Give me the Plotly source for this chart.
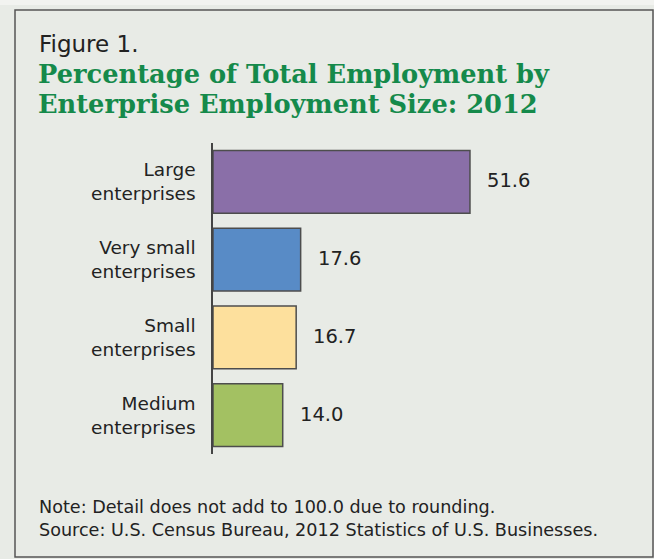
import plotly.graph_objects as go

# ---- data ----
categories = ["Large<br>enterprises", "Very small<br>enterprises",
              "Small<br>enterprises", "Medium<br>enterprises"]
values = [51.6, 17.6, 16.7, 14.0]
value_labels = ["51.6", "17.6", "16.7", "14.0"]
bar_colors = ["#8a6fa8", "#588bc6", "#fde09d", "#a3c162"]

fig_label = "Figure 1."
title_lines = ["Percentage of Total Employment by",
               "Enterprise Employment Size: 2012"]
note_lines = ["Note: Detail does not add to 100.0 due to rounding.",
              "Source: U.S. Census Bureau, 2012 Statistics of U.S. Businesses."]

# ---- geometry (pixels) ----
W, H = 654, 559
PL, PR, PT, PB = 213, 640, 143, 454   # plot area


def px(x, y):
    return (x - PL) / (PR - PL), (PB - y) / (PB - PT)


BG = "#e8ebe6"
TXT = "#222222"

fig = go.Figure()
fig.add_trace(go.Bar(
    y=categories, x=values, orientation="h",
    marker=dict(color=bar_colors, line=dict(color="#4d4d4d", width=1.5)),
    hoverinfo="skip",
))

annotations = []
for c, v, t in zip(categories, values, value_labels):
    annotations.append(dict(x=v, y=c, xref="x", yref="y", text=t,
                            xanchor="left", yanchor="middle", xshift=15, yshift=1,
                            showarrow=False,
                            font=dict(family="DejaVu Sans", size=19.5, color=TXT)))

ax, ay = px(37, 44)
annotations.append(dict(x=ax, y=ay, xref="paper", yref="paper", text=fig_label,
                        xanchor="left", yanchor="middle", showarrow=False,
                        font=dict(family="DejaVu Sans", size=23, color=TXT)))
for i, line in enumerate(title_lines):
    ax, ay = px(36, 74 + 30 * i)
    annotations.append(dict(x=ax, y=ay, xref="paper", yref="paper", text="<b>" + line + "</b>",
                            xanchor="left", yanchor="middle", showarrow=False,
                            font=dict(family="DejaVu Serif", size=25.7, color="#158a4b")))
for i, line in enumerate(note_lines):
    ax, ay = px(37, 507 + 23 * i)
    annotations.append(dict(x=ax, y=ay, xref="paper", yref="paper", text=line,
                            xanchor="left", yanchor="middle", showarrow=False,
                            font=dict(family="DejaVu Sans", size=17.6, color=TXT)))

x0, y0 = px(15, 10)
x1, y1 = px(653, 557)
xt0, yt0 = px(0, 0)
xt1, yt1 = px(W, 5)
shapes = [
    dict(type="rect", xref="paper", yref="paper", x0=xt0, y0=yt0, x1=xt1, y1=yt1,
         fillcolor="#f2f3f0", line=dict(width=0), layer="below"),
    dict(type="rect", xref="paper", yref="paper", x0=x0, y0=y0, x1=x1, y1=y1,
         line=dict(color="#555555", width=1.5), fillcolor="rgba(0,0,0,0)"),
]

fig.update_layout(
    width=W, height=H,
    margin=dict(l=PL, r=W - PR, t=PT, b=H - PB, pad=0),
    paper_bgcolor=BG, plot_bgcolor=BG,
    showlegend=False,
    bargap=0.19,
    xaxis=dict(range=[0, (PR - PL) / 4.98], visible=False, fixedrange=True),
    yaxis=dict(autorange="reversed", showline=True, linecolor="#444444", linewidth=1.5,
               ticks="", showgrid=False, zeroline=False, ticklabelstandoff=12,
               tickfont=dict(family="DejaVu Sans", size=18.5, color=TXT), fixedrange=True),
    annotations=annotations,
    shapes=shapes,
)

fig.write_html("out.html",
               config={"displayModeBar": False},
               post_script="document.body.style.margin='0';document.body.style.overflow='hidden';")
